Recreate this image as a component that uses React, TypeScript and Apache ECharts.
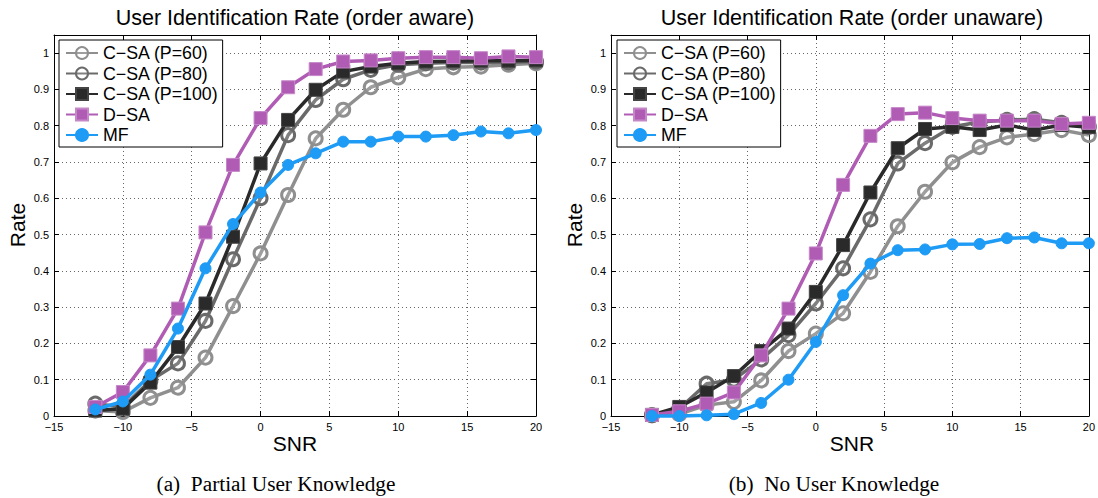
import React, { useEffect, useRef } from "react";
import * as echarts from "echarts";

const SNR = [-12, -10, -8, -6, -4, -2, 0, 2, 4, 6, 8, 10, 12, 14, 16, 18, 20];
const X_TICKS = [-15, 20, 5];
const Y_TICKS = [0, 1.05, 0.1];

const NAMES = ["C\u2212SA (P=60)", "C\u2212SA (P=80)", "C\u2212SA (P=100)", "D\u2212SA", "MF"];

// (a) order aware
const CSA60_A = [0.015, 0.011, 0.05, 0.078, 0.161, 0.303, 0.448, 0.609, 0.765, 0.844, 0.906, 0.933, 0.956, 0.961, 0.963, 0.968, 0.972];
const CSA80_A = [0.034, 0.025, 0.098, 0.145, 0.262, 0.432, 0.6, 0.774, 0.871, 0.928, 0.954, 0.968, 0.972, 0.974, 0.974, 0.975, 0.977];
const CSA100_A = [0.015, 0.02, 0.092, 0.19, 0.31, 0.494, 0.696, 0.816, 0.899, 0.949, 0.963, 0.972, 0.977, 0.978, 0.979, 0.979, 0.98];
const DSA_A = [0.025, 0.066, 0.167, 0.296, 0.506, 0.692, 0.821, 0.906, 0.956, 0.977, 0.98, 0.986, 0.989, 0.989, 0.986, 0.991, 0.989];
const MF_A = [0.018, 0.04, 0.114, 0.241, 0.407, 0.529, 0.616, 0.692, 0.724, 0.756, 0.756, 0.77, 0.77, 0.774, 0.784, 0.779, 0.788];

// (b) order unaware
const CSA60_B = [0.002, 0.005, 0.03, 0.039, 0.098, 0.179, 0.227, 0.283, 0.397, 0.523, 0.618, 0.699, 0.741, 0.768, 0.777, 0.788, 0.774];
const CSA80_B = [0.002, 0.02, 0.089, 0.1, 0.156, 0.223, 0.31, 0.407, 0.542, 0.696, 0.752, 0.797, 0.81, 0.816, 0.818, 0.808, 0.797];
const CSA100_B = [0.003, 0.025, 0.065, 0.11, 0.179, 0.241, 0.342, 0.471, 0.616, 0.738, 0.791, 0.797, 0.788, 0.802, 0.788, 0.802, 0.796];
const DSA_B = [0.003, 0.013, 0.034, 0.065, 0.167, 0.296, 0.448, 0.637, 0.772, 0.832, 0.836, 0.821, 0.814, 0.814, 0.814, 0.805, 0.808];
const MF_B = [0.0, 0.0, 0.002, 0.005, 0.036, 0.1, 0.204, 0.333, 0.42, 0.457, 0.459, 0.473, 0.474, 0.49, 0.492, 0.476, 0.476];

const TITLES = ["User Identification Rate (order aware)", "User Identification Rate (order unaware)"];
const X_NAME = "SNR";
const Y_NAME = "Rate";
const CAPTIONS = ["(a)  Partial User Knowledge", "(b)  No User Knowledge"];

const COLORS = ["#8f8f8f", "#6a6a6a", "#2a2a2a", "#b05cb4", "#1e9bf5"];

const FONT = "Liberation Sans, Arial, Helvetica, sans-serif";

export default function App() {
  const ref = useRef<HTMLDivElement>(null);

  useEffect(() => {
    if (!ref.current) return;
    const chart = echarts.init(ref.current, undefined, { renderer: "svg" });

    const grids = [
      { left: 54, top: 35, width: 482, height: 381 },
      { left: 611, top: 35, width: 482, height: 381 },
    ];

    const fmtX = (v: number) => (v < 0 ? "\u2212" + Math.abs(v) : String(v));
    const fmtY = (v: number) => (v > 1.001 ? "" : String(Math.round(v * 10) / 10));

    const xAxes: any[] = [];
    const yAxes: any[] = [];
    [0, 1].forEach((g) => {
      const base = {
        type: "value",
        gridIndex: g,
        min: X_TICKS[0],
        max: X_TICKS[1],
        interval: X_TICKS[2],
        axisLine: { show: true, onZero: false, lineStyle: { color: "#000", width: 1 } },
        axisTick: { show: true, inside: true, length: 5, lineStyle: { color: "#000" } },
      };
      xAxes.push({
        ...base,
        position: "bottom",
        axisLabel: { formatter: fmtX, fontSize: 11, color: "#000", fontFamily: FONT, margin: 5 },
        splitLine: { show: true, lineStyle: { color: "#666", type: [1, 3], width: 1 } },
      });
      xAxes.push({
        ...base,
        position: "top",
        axisLabel: { show: false },
        splitLine: { show: false },
      });
      const ybase = {
        type: "value",
        gridIndex: g,
        min: Y_TICKS[0],
        max: Y_TICKS[1],
        interval: Y_TICKS[2],
        axisLine: { show: true, onZero: false, lineStyle: { color: "#000", width: 1 } },
        axisTick: { show: true, inside: true, length: 5, lineStyle: { color: "#000" } },
      };
      yAxes.push({
        ...ybase,
        position: "left",
        axisLabel: { formatter: fmtY, fontSize: 11, color: "#000", fontFamily: FONT, margin: 5, showMaxLabel: false },
        splitLine: { show: true, lineStyle: { color: "#666", type: [1, 3], width: 1 } },
      });
      yAxes.push({
        ...ybase,
        position: "right",
        axisLabel: { show: false },
        splitLine: { show: false },
      });
    });

    const dataSets = [
      [CSA60_A, CSA80_A, CSA100_A, DSA_A, MF_A],
      [CSA60_B, CSA80_B, CSA100_B, DSA_B, MF_B],
    ];

    const styleFor = (i: number) => {
      const c = COLORS[i];
      if (i === 0 || i === 1) {
        return {
          symbol: "circle",
          symbolSize: 13,
          itemStyle: { color: "rgba(255,255,255,0.15)", borderColor: c, borderWidth: 3 },
        };
      }
      if (i === 2) {
        return {
          symbol: "rect",
          symbolSize: 13,
          itemStyle: { color: c, borderColor: "#444", borderWidth: 1 },
        };
      }
      if (i === 3) {
        return {
          symbol: "rect",
          symbolSize: 13,
          itemStyle: { color: c, borderColor: "#c687c9", borderWidth: 1 },
        };
      }
      return {
        symbol: "circle",
        symbolSize: 11,
        itemStyle: { color: c, borderColor: c, borderWidth: 1 },
      };
    };

    const series: any[] = [];
    [0, 1].forEach((g) => {
      dataSets[g].forEach((vals, i) => {
        series.push({
          type: "line",
          name: NAMES[i],
          xAxisIndex: g * 2,
          yAxisIndex: g * 2,
          data: SNR.map((x, k) => [x, vals[k]]),
          lineStyle: { color: COLORS[i], width: 3.5 },
          showSymbol: true,
          clip: false,
          z: 2 + i,
          ...styleFor(i),
        });
      });
    });

    const legendBase = {
      orient: "vertical",
      top: 40,
      data: NAMES,
      backgroundColor: "#fff",
      borderColor: "#000",
      borderWidth: 1,
      padding: [4, 4, 3, 6],
      itemWidth: 32,
      itemHeight: 15,
      itemGap: 2.5,
      textStyle: { fontSize: 17.8, lineHeight: 17, color: "#000", fontFamily: FONT },
      selectedMode: false,
    };

    const textCommon = { fill: "#000", fontFamily: FONT, textAlign: "center", textVerticalAlign: "middle" };

    const graphic: any[] = [];
    [0, 1].forEach((g) => {
      const cx = grids[g].left + grids[g].width / 2;
      graphic.push({
        type: "text",
        x: cx,
        y: 18,
        style: { ...textCommon, text: TITLES[g], fontSize: 21.5 },
      });
      graphic.push({
        type: "text",
        x: cx,
        y: 443,
        style: { ...textCommon, text: X_NAME, fontSize: 21 },
      });
      graphic.push({
        type: "text",
        x: grids[g].left - 37,
        y: 225,
        rotation: Math.PI / 2,
        style: { ...textCommon, text: Y_NAME, fontSize: 21 },
      });
      graphic.push({
        type: "text",
        x: g === 0 ? 276 : 834,
        y: 484,
        style: {
          ...textCommon,
          text: CAPTIONS[g],
          fontSize: 21.3,
          fontFamily: "Liberation Serif, Times New Roman, serif",
        },
      });
    });

    chart.setOption({
      animation: false,
      backgroundColor: "#fff",
      grid: grids,
      xAxis: xAxes,
      yAxis: yAxes,
      legend: [
        { ...legendBase, left: 59 },
        { ...legendBase, left: 617 },
      ],
      series,
      graphic,
    });

    return () => chart.dispose();
  }, []);

  return (
    <div
      ref={ref}
      style={{ position: "fixed", left: 0, top: 0, width: 1098, height: 498, background: "#fff" }}
    />
  );
}
